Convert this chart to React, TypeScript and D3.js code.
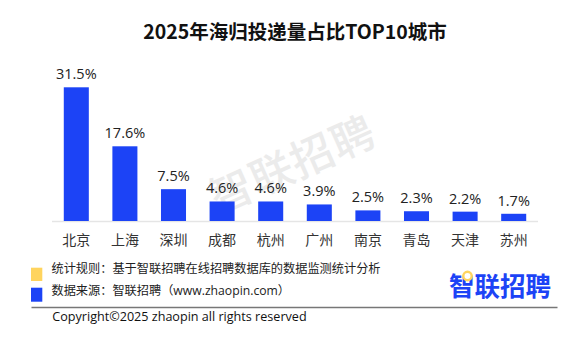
import React from "react";
import * as d3 from "d3";

const categories = ["北京", "上海", "深圳", "成都", "杭州", "广州", "南京", "青岛", "天津", "苏州"];
const values = [31.5, 17.6, 7.5, 4.6, 4.6, 3.9, 2.5, 2.3, 2.2, 1.7];
const titleText = "2025年海归投递量占比TOP10城市";
const noteRule = "统计规则：基于智联招聘在线招聘数据库的数据监测统计分析";
const noteSource = "数据来源：智联招聘（www.zhaopin.com）";
const copyright = "Copyright©2025 zhaopin all rights reserved";
const logoText = "智联招聘";

const W = 585;
const H = 355;
const FONT = "'Open Sans', 'Noto Sans CJK SC', sans-serif";
const CJK = "'Noto Sans CJK SC', sans-serif";
const BLUE = "#1c43f6";
const YELLOW = "#ffd45e";

export default function App() {
  const x = d3.scaleBand<string>().domain(categories).range([52, 538]).paddingInner(0.485).paddingOuter(0.2425);
  const y = d3.scaleLinear().domain([0, 31.5]).range([221, 87.3]);

  return (
    <svg width={W} height={H} viewBox={`0 0 ${W} ${H}`} style={{ position: "absolute", left: 0, top: 0, display: "block", background: "#fff" }}>
      <rect width={W} height={H} fill="#fff" />
      {/* watermark */}
      <text
        x={294}
        y={168}
        transform="rotate(-24 294 168)"
        textAnchor="middle"
        dominantBaseline="middle"
        fontFamily={CJK}
        fontSize={43}
        fontWeight={500}
        fill="#ebebeb"
        letterSpacing={1}
      >
        {logoText}
      </text>
      <text x={295} y={39} textAnchor="middle" fontFamily={CJK} fontSize={19.5} fontWeight={700} fill="#111">
        {titleText}
      </text>
      <line x1={52} x2={538} y1={221.5} y2={221.5} stroke="#e5e5e5" strokeWidth={1.5} />
      {categories.map((c, i) => (
        <g key={c}>
          <rect x={x(c)} y={y(values[i])} width={x.bandwidth()} height={y(0) - y(values[i])} fill={BLUE} />
          <text
            x={(x(c) as number) + x.bandwidth() / 2}
            y={y(values[i]) - 8}
            textAnchor="middle"
            fontFamily={FONT}
            fontSize={14.5}
            fill="#222"
          >
            {values[i].toFixed(1)}%
          </text>
          <text
            x={(x(c) as number) + x.bandwidth() / 2}
            y={245}
            textAnchor="middle"
            fontFamily={CJK}
            fontSize={14}
            fill="#333"
          >
            {c}
          </text>
        </g>
      ))}
      {/* footer */}
      <rect x={31} y={267.7} width={11.3} height={13.3} fill={YELLOW} />
      <rect x={31} y={287.7} width={11.3} height={14} fill={BLUE} />
      <text x={51.5} y={272.5} fontFamily={FONT} fontSize={12.2} fill="#222">
        {noteRule}
      </text>
      <text x={51.5} y={295} fontFamily={FONT} fontSize={12.2} fill="#222">
        {noteSource}
      </text>
      <text x={449} y={296} fontFamily={CJK} fontSize={26} fontWeight={700} fill={BLUE} textLength={102} lengthAdjust="spacingAndGlyphs">
        {logoText}
      </text>
      <circle cx={467.5} cy={276} r={4.2} fill="#fff" stroke={YELLOW} strokeWidth={2.4} />
      <line x1={31.5} x2={557.5} y1={307.5} y2={307.5} stroke="#777" strokeWidth={1.3} />
      <text x={52.3} y={321} fontFamily={FONT} fontSize={12.6} fill="#111">
        {copyright}
      </text>
    </svg>
  );
}
